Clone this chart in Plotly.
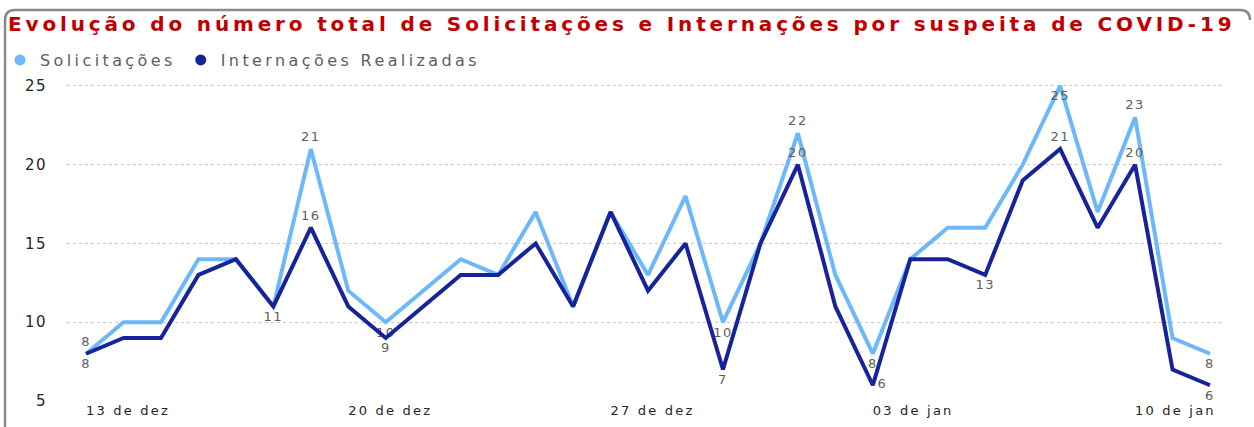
import pandas as pd
import plotly.graph_objects as go

# ---- data ----
dates = pd.date_range("2020-12-13", periods=31, freq="D")
solicitacoes = [8, 10, 10, 14, 14, 11, 21, 12, 10, 12, 14, 13, 17, 11, 17, 13, 18, 10, 15, 22,
                13, 8, 14, 16, 16, 20, 25, 17, 23, 9, 8]
internacoes = [8, 9, 9, 13, 14, 11, 16, 11, 9, 11, 13, 13, 15, 11, 17, 12, 15, 7, 15, 20,
               11, 6, 14, 14, 13, 19, 21, 16, 20, 7, 6]
tick_dates = ["2020-12-13", "2020-12-20", "2020-12-27", "2021-01-03", "2021-01-10"]
tick_labels = ["13 de dez", "20 de dez", "27 de dez", "03 de jan", "10 de jan"]
y_ticks = [5, 10, 15, 20, 25]
title_text = "Evolução do número total de Solicitações e Internações por suspeita de COVID-19"

# which points carry a data label, and where it sits
sol_label_pos = {0: "top center", 6: "top center", 8: "bottom center", 17: "bottom center",
                 19: "top center", 21: "bottom center", 26: "bottom center", 28: "top center",
                 30: "bottom center"}
int_label_pos = {0: "bottom center", 5: "bottom center", 6: "top center", 8: "bottom center",
                 17: "bottom center", 19: "top center", 21: "middle right", 24: "bottom center",
                 26: "top center", 28: "top center", 30: "bottom center"}

LIGHT = "#6CB8FB"
DARK = "#16239A"
LABEL_COLOR = "#605E5C"
BORDER = "#8A8A8A"

W, H = 1254, 427
ML, MR, MT, MB = 67, 29, 78, 26


def spaced(text, sp):
    return f'<span style="letter-spacing:{sp}px">{text}</span>'


def labels(values, pos):
    return [spaced(str(v), 1.5) if i in pos else "" for i, v in enumerate(values)]


def positions(values, pos):
    return [pos.get(i, "top center") for i in range(len(values))]


fig = go.Figure()
for name, vals, pos, color in [
    ("Solicitações", solicitacoes, sol_label_pos, LIGHT),
    ("Internações Realizadas", internacoes, int_label_pos, DARK),
]:
    fig.add_trace(go.Scatter(
        x=dates, y=vals, name=name, mode="lines+markers+text",
        line=dict(color=color, width=4),
        marker=dict(size=6, opacity=0, color=color),
        text=labels(vals, pos), textposition=positions(vals, pos),
        textfont=dict(family="DejaVu Sans", size=13, color=LABEL_COLOR),
        showlegend=False, hoverinfo="x+y",
    ))
    # legend entry (circle symbol)
    fig.add_trace(go.Scatter(
        x=[None], y=[None], name=spaced(name, 3.4), mode="markers",
        marker=dict(symbol="circle", size=11, color=color),
        showlegend=True,
    ))

# pixel -> paper helpers for the card border
pw = W - ML - MR
ph = H - MT - MB


def px(x):
    return (x - ML) / pw


def py(y):
    return (H - MB - y) / ph


border = (f"M {px(5):.4f},{py(430):.4f} L {px(5):.4f},{py(20):.4f} "
          f"Q {px(5):.4f},{py(10):.4f} {px(15):.4f},{py(10):.4f} "
          f"L {px(1240):.4f},{py(10):.4f} Q {px(1250):.4f},{py(10):.4f} {px(1250):.4f},{py(20):.4f}")

start = dates[0] - pd.Timedelta(hours=12.2)
end = dates[-1] + pd.Timedelta(hours=9.6)

fig.update_layout(
    width=W, height=H,
    margin=dict(l=ML, r=MR, t=MT, b=MB, pad=0, autoexpand=False),
    paper_bgcolor="white", plot_bgcolor="white",
    title=dict(
        text=spaced(title_text, 3.85),
        xref="container", x=8 / W, xanchor="left",
        yref="container", y=1 - 24 / H, yanchor="middle",
        font=dict(family="DejaVu Sans", size=20, weight="bold", color="#C00000"),
    ),
    legend=dict(
        orientation="h", xref="container", yref="container",
        x=0.0, xanchor="left", y=1 - 60 / H, yanchor="middle",
        font=dict(family="DejaVu Sans", size=16, color=LABEL_COLOR),
        itemwidth=30, tracegroupgap=0, bgcolor="rgba(0,0,0,0)",
    ),
    xaxis=dict(
        type="date", range=[start, end],
        tickvals=tick_dates, ticktext=[spaced(t, 2.2) for t in tick_labels],
        ticklabelposition="outside right",
        showgrid=False, zeroline=False, showline=False,
        ticks="", tickfont=dict(family="DejaVu Sans", size=13, color="#252423"),
    ),
    yaxis=dict(
        range=[5, 25.5], tickvals=y_ticks,
        ticktext=[spaced(str(t), 1.5) for t in y_ticks],
        showgrid=True, gridcolor="#C8C8C8", griddash="dot", gridwidth=1,
        zeroline=False, showline=False,
        ticks="outside", ticklen=16, tickcolor="rgba(0,0,0,0)",
        tickfont=dict(family="DejaVu Sans", size=15, color="#252423"),
    ),
    shapes=[dict(type="path", path=border, xref="paper", yref="paper",
                 line=dict(color=BORDER, width=2.5), layer="above")],
)

fig.write_html("out.html", config={"displayModeBar": False},
               post_script="document.body.style.margin='0';")
